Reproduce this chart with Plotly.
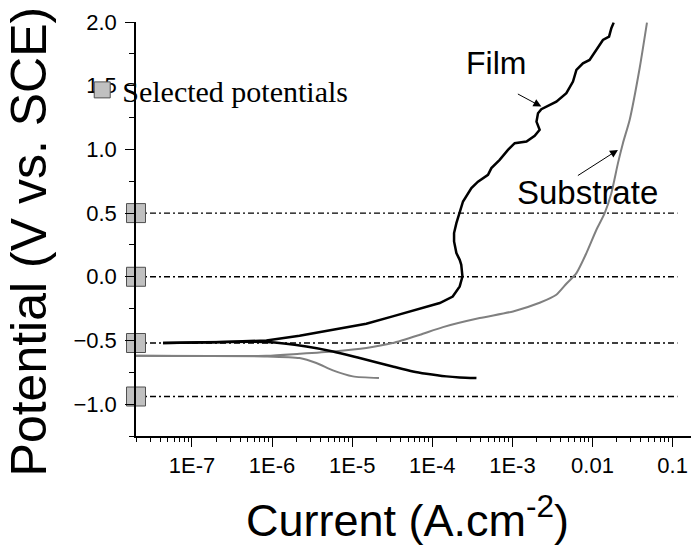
import plotly.graph_objects as go
import math

# ---------------- data ----------------
# Film (black) anodic branch: current (A/cm2), potential (V vs SCE)
film_anodic_i = [4.35e-8, 2.0e-7, 8.5e-7, 2.2e-6, 5.75e-6, 1.5e-5, 3.2e-5, 7.0e-5,
                 1.24e-4, 1.8e-4, 2.2e-4, 2.38e-4, 2.3e-4, 2.2e-4, 2.0e-4, 1.87e-4,
                 1.87e-4, 2.0e-4, 2.2e-4, 2.42e-4, 3.08e-4, 3.72e-4, 4.96e-4, 5.47e-4,
                 6.94e-4, 8.81e-4, 1.07e-3, 1.50e-3, 1.90e-3, 2.19e-3, 2.0e-3, 2.09e-3,
                 2.30e-3, 2.92e-3, 3.54e-3, 4.72e-3, 5.71e-3, 6.3e-3, 7.6e-3, 9.2e-3,
                 1.12e-2, 1.35e-2, 1.61e-2, 1.72e-2, 1.84e-2]
film_anodic_e = [-0.520, -0.515, -0.500, -0.463, -0.416, -0.369, -0.311, -0.253,
                 -0.206, -0.155, -0.076, 0.002, 0.094, 0.133, 0.186, 0.277,
                 0.343, 0.421, 0.500, 0.591, 0.696, 0.747, 0.800, 0.853,
                 0.918, 0.996, 1.049, 1.061, 1.106, 1.153, 1.218, 1.284,
                 1.315, 1.349, 1.375, 1.441, 1.532, 1.624, 1.676, 1.702,
                 1.780, 1.859, 1.885, 1.951, 1.995]

# Film (black) cathodic branch
film_cathodic_i = [4.35e-8, 8.5e-7, 2.68e-6, 5.75e-6, 1.24e-5, 3.2e-5, 5.74e-5,
                   8.43e-5, 1.5e-4, 2.2e-4, 3.56e-4]
film_cathodic_e = [-0.520, -0.512, -0.547, -0.586, -0.638, -0.704, -0.743,
                   -0.761, -0.782, -0.790, -0.795]

# Substrate (grey) anodic branch
sub_anodic_i = [2.0e-8, 8.5e-7, 2.2e-6, 5.75e-6, 1.5e-5, 3.2e-5, 7.0e-5, 1.36e-4,
                3.91e-4, 1.02e-3, 2.19e-3, 3.54e-3, 4.72e-3, 6.3e-3, 8.4e-3,
                1.12e-2, 1.42e-2, 1.72e-2, 2.08e-2, 2.40e-2, 2.91e-2, 3.88e-2, 4.79e-2]
sub_anodic_e = [-0.620, -0.620, -0.604, -0.586, -0.559, -0.520, -0.455, -0.395,
                -0.324, -0.272, -0.204, -0.141, -0.055, 0.029, 0.186,
                0.369, 0.500, 0.656, 0.892, 1.049, 1.231, 1.637, 1.995]

# Substrate (grey) cathodic branch
sub_cathodic_i = [2.0e-8, 8.5e-7, 2.2e-6, 3.57e-6, 5.75e-6, 1.02e-5, 2.16e-5]
sub_cathodic_e = [-0.620, -0.625, -0.638, -0.677, -0.735, -0.782, -0.795]

# Selected potentials (V vs SCE)
selected_potentials = [0.5, 0.0, -0.52, -0.94]
line_i_start = 2.0e-8
line_i_end = 0.115

# axis ticks
x_tickvals = [1e-7, 1e-6, 1e-5, 1e-4, 1e-3, 1e-2, 1e-1]
x_ticktext = ["1E-7", "1E-6", "1E-5", "1E-4", "1E-3", "0.01", "0.1"]
x_range = [math.log10(2.0e-8), -0.770]
y_range = [-1.25, 2.0]

# annotation anchors (log10 current, potential)
film_label = (-3.208, 1.678)
film_arrow_tail = (-2.950, 1.441)
film_arrow_head = (-2.638, 1.336)
sub_label = (-2.060, 0.659)
sub_arrow_tail = (-2.201, 0.787)
sub_arrow_head = (-1.682, 0.996)

# ---------------- figure ----------------
fig = go.Figure()

# dash-dot horizontal lines at the selected potentials
for e in selected_potentials:
    fig.add_trace(go.Scatter(
        x=[line_i_start, line_i_end], y=[e, e], mode="lines",
        line=dict(color="black", width=1.3, dash="6px,3px,2px,3px"),
        showlegend=False, hoverinfo="skip"))

fig.add_trace(go.Scatter(x=sub_anodic_i, y=sub_anodic_e, mode="lines",
                         line=dict(color="#808080", width=2, shape="spline", smoothing=0.6),
                         showlegend=False))
fig.add_trace(go.Scatter(x=sub_cathodic_i, y=sub_cathodic_e, mode="lines",
                         line=dict(color="#808080", width=2, shape="spline", smoothing=0.6),
                         showlegend=False))
fig.add_trace(go.Scatter(x=film_anodic_i, y=film_anodic_e, mode="lines",
                         line=dict(color="black", width=2.5),
                         showlegend=False))
fig.add_trace(go.Scatter(x=film_cathodic_i, y=film_cathodic_e, mode="lines",
                         line=dict(color="black", width=2.5, shape="spline", smoothing=0.6),
                         showlegend=False))

# selected potential markers
fig.add_trace(go.Scatter(
    x=[line_i_start] * len(selected_potentials), y=selected_potentials,
    mode="markers", name="Selected potentials",
    marker=dict(symbol="square", size=19, color="#c0c0c0",
                line=dict(color="#505050", width=1)),
    cliponaxis=False, showlegend=True))

annotations = [
    dict(x=film_label[0], y=film_label[1], xref="x", yref="y", text="Film",
         showarrow=False, font=dict(family="Liberation Sans, Arial", size=32, color="black")),
    dict(x=film_arrow_head[0], y=film_arrow_head[1], xref="x", yref="y",
         ax=film_arrow_tail[0], ay=film_arrow_tail[1], axref="x", ayref="y",
         text="", showarrow=True, arrowhead=2, arrowsize=1.6, arrowwidth=1,
         arrowcolor="black"),
    dict(x=sub_label[0], y=sub_label[1], xref="x", yref="y", text="Substrate",
         showarrow=False, font=dict(family="Liberation Sans, Arial", size=33, color="black")),
    dict(x=sub_arrow_head[0], y=sub_arrow_head[1], xref="x", yref="y",
         ax=sub_arrow_tail[0], ay=sub_arrow_tail[1], axref="x", ayref="y",
         text="", showarrow=True, arrowhead=2, arrowsize=1.6, arrowwidth=1,
         arrowcolor="black"),
    # axis titles
    dict(x=-0.192, y=0.471, xref="paper", yref="paper", text="Potential (V vs. SCE)",
         textangle=-90, showarrow=False, xanchor="center", yanchor="middle",
         font=dict(family="Liberation Sans, Arial", size=50, color="black")),
    dict(x=0.49, y=-0.196, xref="paper", yref="paper", text="Current (A.cm<sup>-2</sup>)",
         showarrow=False, xanchor="center", yanchor="middle",
         font=dict(family="Liberation Sans, Arial", size=45, color="black")),
]

minor_x = [m * 10.0 ** p for p in range(-8, 0) for m in range(2, 10)]

fig.update_layout(
    width=691, height=546,
    margin=dict(l=136, r=0, t=22, b=110, autoexpand=False),
    paper_bgcolor="white", plot_bgcolor="white",
    font=dict(family="Liberation Sans, Arial", color="black"),
    annotations=annotations,
    showlegend=True,
    legend=dict(xref="container", yref="container", x=0.119, y=0.883,
                xanchor="left", yanchor="top", bgcolor="rgba(0,0,0,0)",
                borderwidth=0, font=dict(family="Liberation Serif, Times New Roman",
                                         size=30, color="black"),
                itemsizing="trace"),
    xaxis=dict(type="log", range=x_range, tickmode="array", tickvals=x_tickvals,
               ticktext=x_ticktext, ticks="outside", ticklen=9, tickwidth=1,
               tickcolor="black", showline=True, linecolor="black", linewidth=1.5,
               showgrid=False, zeroline=False, tickfont=dict(size=22),
               minor=dict(tickvals=minor_x, ticks="outside", ticklen=4,
                          tickcolor="black", showgrid=False)),
    yaxis=dict(range=y_range, tickmode="linear", tick0=0, dtick=0.5, tickformat=".1f",
               ticks="outside", ticklen=9, tickwidth=1, tickcolor="black",
               showline=True, linecolor="black", linewidth=1.5, showgrid=False,
               zeroline=False, tickfont=dict(size=22), ticklabelstandoff=4,
               minor=dict(dtick=0.25, ticks="outside", ticklen=5, tickcolor="black",
                          showgrid=False)),
)

fig.write_html("out.html")
